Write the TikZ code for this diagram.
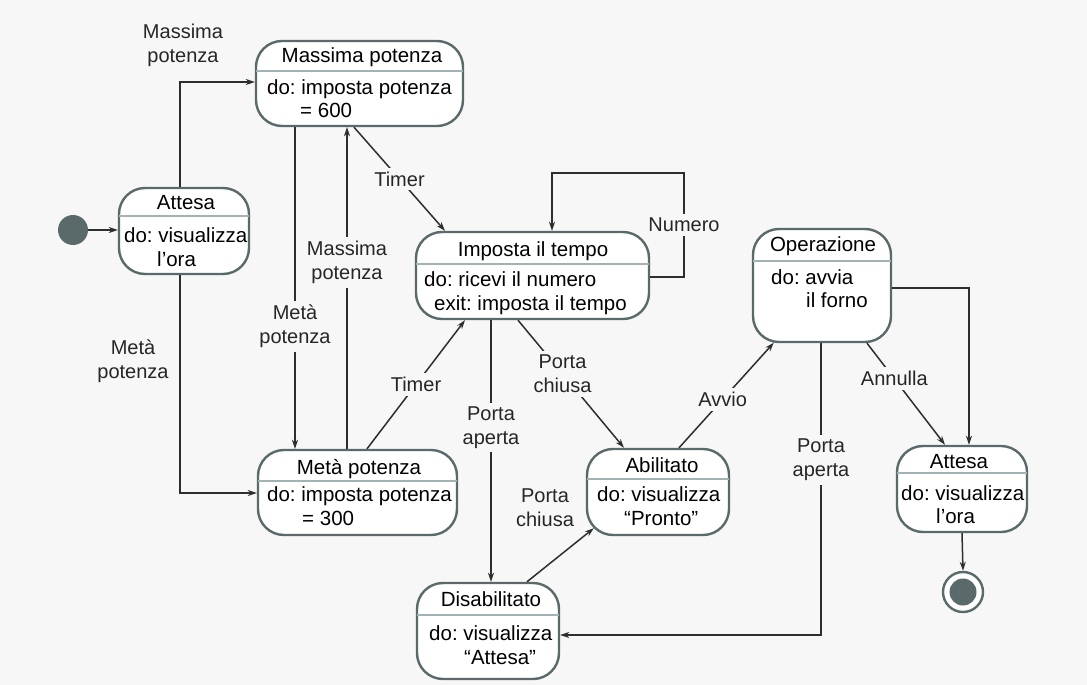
\documentclass[tikz,border=0pt]{standalone}
\usepackage{fontspec}
\setmainfont{Liberation Sans}
\usetikzlibrary{arrows.meta}
\usetikzlibrary{calc}
\frenchspacing

\definecolor{bgcol}{HTML}{F7F7F7}
\definecolor{boxcol}{HTML}{5A6A6A}
\definecolor{sepcol}{HTML}{A3B2B2}
\definecolor{linecol}{HTML}{2E2E2E}

\begin{document}
\begin{tikzpicture}[x=1pt, y=-1pt,
    state node/.style={draw=boxcol, fill=white, line width=2.4pt, rounded corners=26pt, inner sep=0pt},
    title text/.style={anchor=base, font=\fontsize{20.5}{24}\selectfont, inner sep=0pt},
    body text/.style={anchor=base west, font=\fontsize{20.5}{24}\selectfont, inner sep=0pt},
    sep line/.style={draw=sepcol, line width=2pt, shorten <=1.5pt, shorten >=1.5pt},
    trans/.style={draw=linecol, line width=1.5pt, -{Stealth[length=9pt,width=6pt]}},
    edge label/.style={fill=bgcol, align=center, font=\fontsize{20}{24}\selectfont, text=black!85, inner sep=4pt},
    ]
  \fill[bgcol] (0,0) rectangle (1087,685);
  \useasboundingbox (0,0) rectangle (1087,685);

  % stati
  \node[circle, fill=boxcol, minimum size=30pt, inner sep=0pt] (init) at (73,230) {};

  \node[state node, minimum width=130pt, minimum height=86pt] (att1) at (184,231) {};
  \node[title text] (att1T) at (186,209) {Attesa};
  \draw[sep line] (att1.west |- 0,216) -- (att1.east |- 0,216);
  \node[body text] (att1B) at (124,242) {do: visualizza};
  \node[body text] (att1C) at (157,266) {l’ora};

  \node[state node, minimum width=207pt, minimum height=85pt] (mass) at (359.5,83.5) {};
  \node[title text] (massT) at (362,63) {Massima potenza};
  \draw[sep line] (mass.west |- 0,71) -- (mass.east |- 0,71);
  \node[body text] (massB) at (267,94) {do: imposta potenza};
  \node[body text] (massC) at (300,117) {= 600};

  \node[state node, minimum width=233pt, minimum height=87pt] (imp) at (532.5,275.5) {};
  \node[title text] (impT) at (533,256) {Imposta il tempo};
  \draw[sep line] (imp.west |- 0,264) -- (imp.east |- 0,264);
  \node[body text] (impB) at (424,286) {do: ricevi il numero};
  \node[body text] (impC) at (434,310) {exit: imposta il tempo};

  \node[state node, minimum width=138pt, minimum height=113pt] (oper) at (822,285.5) {};
  \node[title text] (operT) at (823,251) {Operazione};
  \draw[sep line] (oper.west |- 0,261) -- (oper.east |- 0,261);
  \node[body text] (operB) at (771,284) {do: avvia};
  \node[body text] (operC) at (806,307) {il forno};

  \node[state node, minimum width=199pt, minimum height=85pt] (meta) at (357.5,492.5) {};
  \node[title text] (metaT) at (359,474) {Metà potenza};
  \draw[sep line] (meta.west |- 0,481) -- (meta.east |- 0,481);
  \node[body text] (metaB) at (267,501) {do: imposta potenza};
  \node[body text] (metaC) at (302,525) {= 300};

  \node[state node, minimum width=142pt, minimum height=86pt] (abil) at (658,492) {};
  \node[title text] (abilT) at (662,472) {Abilitato};
  \draw[sep line] (abil.west |- 0,479) -- (abil.east |- 0,479);
  \node[body text] (abilB) at (597,501) {do: visualizza};
  \node[body text] (abilC) at (624,525) {“Pronto”};

  \node[state node, minimum width=142pt, minimum height=96pt] (dis) at (488,631) {};
  \node[title text] (disT) at (491,606) {Disabilitato};
  \draw[sep line] (dis.west |- 0,615) -- (dis.east |- 0,615);
  \node[body text] (disB) at (429,640) {do: visualizza};
  \node[body text] (disC) at (464,664) {“Attesa”};

  \node[state node, minimum width=130pt, minimum height=86pt] (att2) at (962,489) {};
  \node[title text] (att2T) at (959,468) {Attesa};
  \draw[sep line] (att2.west |- 0,473) -- (att2.east |- 0,473);
  \node[body text] (att2B) at (901,500) {do: visualizza};
  \node[body text] (att2C) at (936,523) {l’ora};

  \node[circle, draw=boxcol, line width=2.4pt, fill=white, minimum size=40pt, inner sep=0pt] (fin) at (963,592) {};
  \node[circle, fill=boxcol, minimum size=27pt, inner sep=0pt] (finDot) at (fin) {};

  % transizioni
  \draw[trans] (init.east) -- (att1.west |- init.east);
  \draw[trans] (180,0 |- att1.north) |- (mass.west |- 0,82);
  \node[edge label] (lMass1) at (183,45) {Massima\\potenza};
  \draw[trans] (180,0 |- att1.south) |- (meta.west |- 0,493);
  \node[edge label] (lMeta1) at (133,361) {Metà\\potenza};

  \draw[trans] (295,0 |- mass.south) -- node[edge label, pos=.62] (lMeta2) {Metà\\potenza} (295,0 |- meta.north);
  \draw[trans] (347,0 |- meta.north) -- node[edge label, pos=.58] (lMass2) {Massima\\potenza} (347,0 |- mass.south);
  \draw[trans] (354,0 |- mass.south) -- node[edge label] (lTimer1) {Timer} (445,0 |- imp.north);
  \draw[trans] (367,0 |- meta.north) -- node[edge label] (lTimer2) {Timer} (465,0 |- imp.south);
  \draw[trans] (imp.east |- 0,277) -- (684,277) -- node[edge label] (lNum) {Numero} (684,173) -- (552,173) -- (552,0 |- imp.north);

  \draw[trans] (491,0 |- imp.south) -- node[edge label, pos=.41] (lAperta1) {Porta\\aperta} (491,0 |- dis.north);
  \draw[trans] (518,0 |- imp.south) -- node[edge label, pos=.42] (lChiusa1) {Porta\\chiusa} (624,0 |- abil.north);
  \draw[trans] (527,0 |- dis.north) -- ($(abil.south west)+(8,-8)$);
  \node[edge label] (lChiusa2) at (545,508) {Porta\\chiusa};
  \draw[trans] (679,0 |- abil.north) -- node[edge label, pos=.46] (lAvvio) {Avvio} ($(oper.south west)+(22,-0.5)$);

  \draw[trans] (821,0 |- oper.south) |- node[edge label, pos=.2] (lAperta2) {Porta\\aperta} (dis.east |- 0,635);
  \draw[trans] (867,0 |- oper.south) -- node[edge label, pos=.35] (lAnnulla) {Annulla} (945,0 |- att2.north);
  \draw[trans] (oper.east |- 0,288) -| (969,0 |- att2.north);
  \draw[trans] (962,0 |- att2.south) -- (fin.north);
\end{tikzpicture}
\end{document}
